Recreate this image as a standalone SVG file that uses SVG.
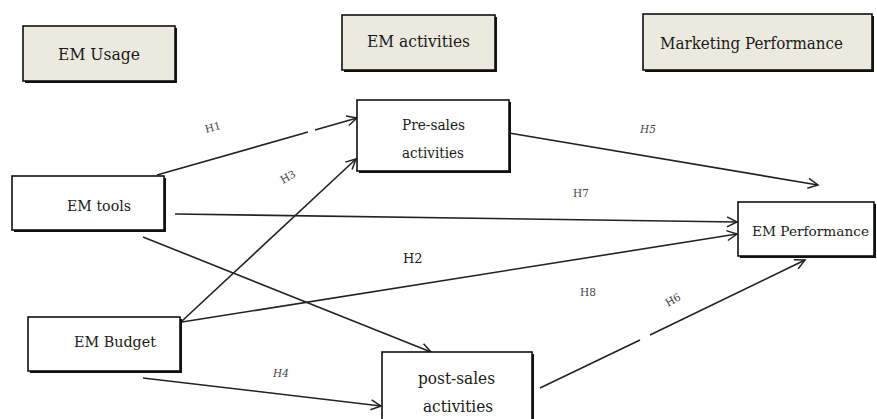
<svg xmlns="http://www.w3.org/2000/svg" width="877" height="419" viewBox="0 0 877 419">
<defs>
<marker id="arr" markerUnits="userSpaceOnUse" markerWidth="14" markerHeight="14" refX="11" refY="6" orient="auto">
<path d="M1,1 L11,6 L1,11" fill="none" stroke="#222" stroke-width="1.5"/>
</marker>
<style>
.hdr{fill:#ECEADF;stroke:#111;stroke-width:1.6}
.box{fill:#fff;stroke:#111;stroke-width:1.6}
.sh{fill:#111}
.t{font-family:'DejaVu Serif','Liberation Serif',serif;fill:#1a1a1a}
.lbl{font-family:'DejaVu Serif','Liberation Serif',serif;fill:#444;font-size:10.5px}
.c{fill:none;stroke:#222;stroke-width:1.6}
</style>
</defs>
<rect width="877" height="419" fill="#fff"/>

<g id="hdr-usage">
<rect class="sh" x="25" y="28" width="152" height="55"/>
<rect class="hdr" x="23" y="26" width="152" height="55"/>
<text class="t" x="58" y="60" font-size="17" textLength="82" lengthAdjust="spacingAndGlyphs">EM Usage</text>
</g>
<g id="hdr-activities">
<rect class="sh" x="344" y="17" width="153" height="55"/>
<rect class="hdr" x="342" y="15" width="153" height="55"/>
<text class="t" x="367" y="47" font-size="17" textLength="103" lengthAdjust="spacingAndGlyphs">EM activities</text>
</g>
<g id="hdr-marketing">
<rect class="sh" x="645" y="16" width="229" height="56"/>
<rect class="hdr" x="643" y="14" width="229" height="56"/>
<text class="t" x="660" y="49" font-size="17" textLength="183" lengthAdjust="spacingAndGlyphs">Marketing Performance</text>
</g>

<g id="connectors">
<path class="c" d="M157,175 L308,132 M315,130 L357,118" marker-end="url(#arr)"/>
<path class="c" d="M182,321 L356,159" marker-end="url(#arr)"/>
<path class="c" d="M175,214 L737,222" marker-end="url(#arr)"/>
<path class="c" d="M143,237 L431,352" marker-end="url(#arr)"/>
<path class="c" d="M182,322 L737,234" marker-end="url(#arr)"/>
<path class="c" d="M143,378 L381,406" marker-end="url(#arr)"/>
<path class="c" d="M509,133 L818,185" marker-end="url(#arr)"/>
<path class="c" d="M540,388 L640,340 M650,335 L805,260" marker-end="url(#arr)"/>
</g>

<g id="labels">
<text class="lbl" x="205" y="131" transform="rotate(-15 213 128)">H1</text>
<text class="lbl" x="280" y="181" transform="rotate(-30 287 177)">H3</text>
<text class="lbl" x="640" y="133" font-style="italic">H5</text>
<text class="lbl" x="573" y="197">H7</text>
<text class="t" x="403" y="263" font-size="13">H2</text>
<text class="lbl" x="580" y="296">H8</text>
<text class="lbl" x="273" y="377" font-style="italic">H4</text>
<text class="lbl" x="665" y="304" transform="rotate(-30 672 300)">H6</text>
</g>

<g id="pre-sales">
<rect class="sh" x="359" y="102" width="152" height="71"/>
<rect class="box" x="357" y="100" width="152" height="71"/>
<text class="t" x="402" y="130" font-size="15" textLength="63" lengthAdjust="spacingAndGlyphs">Pre-sales</text>
<text class="t" x="402" y="158" font-size="15" textLength="62" lengthAdjust="spacingAndGlyphs">activities</text>
</g>
<g id="em-tools">
<rect class="sh" x="14" y="178" width="152" height="54"/>
<rect class="box" x="12" y="176" width="152" height="54"/>
<text class="t" x="67" y="211" font-size="15" textLength="64" lengthAdjust="spacingAndGlyphs">EM tools</text>
</g>
<g id="em-budget">
<rect class="sh" x="30" y="319" width="152" height="54"/>
<rect class="box" x="28" y="317" width="152" height="54"/>
<text class="t" x="74" y="347" font-size="15" textLength="82" lengthAdjust="spacingAndGlyphs">EM Budget</text>
</g>
<g id="post-sales">
<rect class="sh" x="384" y="354" width="150" height="80"/>
<rect class="box" x="382" y="352" width="150" height="80"/>
<text class="t" x="418" y="384" font-size="16" textLength="77" lengthAdjust="spacingAndGlyphs">post-sales</text>
<text class="t" x="423" y="412" font-size="16" textLength="70" lengthAdjust="spacingAndGlyphs">activities</text>
</g>
<g id="em-performance">
<rect class="sh" x="740" y="204" width="136" height="54"/>
<rect class="box" x="738" y="202" width="136" height="54"/>
<text class="t" x="752" y="236" font-size="13.6" textLength="117" lengthAdjust="spacingAndGlyphs">EM Performance</text>
</g>
</svg>
